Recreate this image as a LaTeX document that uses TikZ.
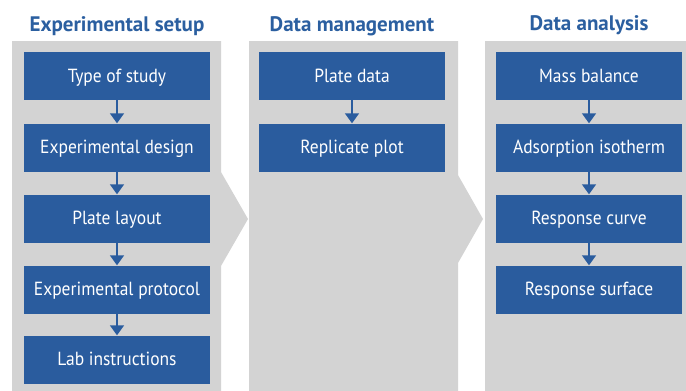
\documentclass[tikz,border=0pt]{standalone}
\usepackage{fontspec}
\setmainfont{PT Sans}
\newfontfamily\boxfont[FakeStretch=0.92]{PT Sans}
\usetikzlibrary{arrows.meta}
\definecolor{boxblue}{HTML}{2A5C9E}
\definecolor{titleblue}{HTML}{2B5FA0}
\definecolor{panelgray}{HTML}{D3D3D3}
\begin{document}
\begin{tikzpicture}[x=1pt,y=-1pt,
  stepbox/.style={fill=boxblue,text=white,minimum width=186pt,minimum height=48pt,inner sep=0pt,text height=15pt,text depth=3pt,font=\boxfont\fontsize{19}{22}\selectfont},
  title/.style={text=titleblue,font=\fontsize{21}{24}\selectfont\bfseries,anchor=base,inner sep=0pt},
  arr/.style={draw=boxblue,line width=1.5pt,-{Triangle[width=14pt,length=10pt]},shorten >=0pt}]
\useasboundingbox (0,0) rectangle (686,391);
% panels
\fill[panelgray] (12,41) -- (221,41) -- (221,172) -- (248,219) -- (221,266) -- (221,391) -- (12,391) -- cycle;
\fill[panelgray] (249,41) -- (458,41) -- (458,175) -- (483,219) -- (458,263) -- (458,391) -- (249,391) -- cycle;
\fill[panelgray] (485,41) rectangle (686,391);
% titles
\node[title] (t1) at (117,31) {Experimental setup};
\node[title] (t2) at (352,31) {Data management};
\node[title] (t3) at (589,30) {Data analysis};
% column 1
\node[stepbox] (a1) at (117,76) {Type of study};
\node[stepbox] (a2) at (117,147.5) {Experimental design};
\node[stepbox] (a3) at (117,218.5) {Plate layout};
\node[stepbox] (a4) at (117,289.5) {Experimental protocol};
\node[stepbox] (a5) at (117,359.5) {Lab instructions};
% column 2
\node[stepbox] (b1) at (352,76) {Plate data};
\node[stepbox] (b2) at (352,147.5) {Replicate plot};
% column 3
\node[stepbox] (c1) at (589,76) {Mass balance};
\node[stepbox] (c2) at (589,147.5) {Adsorption isotherm};
\node[stepbox] (c3) at (589,218.5) {Response curve};
\node[stepbox] (c4) at (589,289.5) {Response surface};
% arrows
\draw[arr] (a1) -- (a2);
\draw[arr] (a2) -- (a3);
\draw[arr] (a3) -- (a4);
\draw[arr] (a4) -- (a5);
\draw[arr] (b1) -- (b2);
\draw[arr] (c1) -- (c2);
\draw[arr] (c2) -- (c3);
\draw[arr] (c3) -- (c4);
\end{tikzpicture}
\end{document}
